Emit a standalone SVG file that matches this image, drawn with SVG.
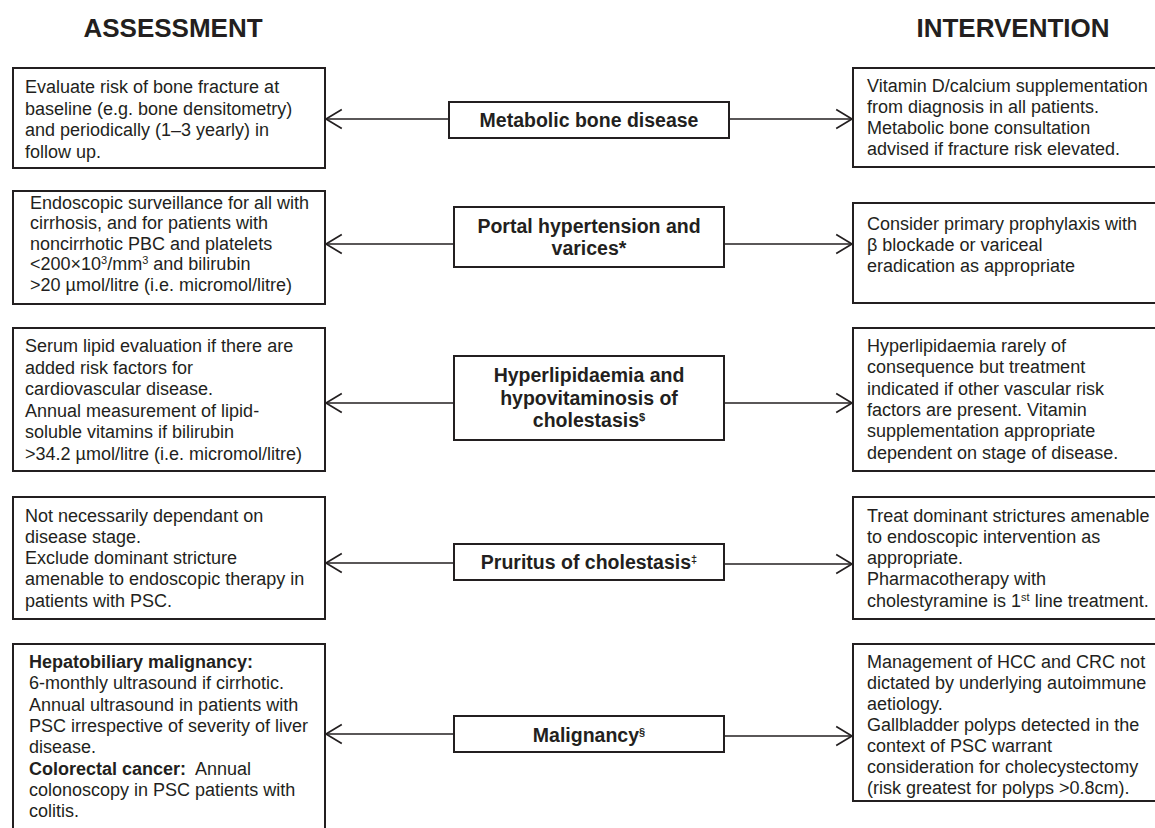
<svg xmlns="http://www.w3.org/2000/svg" width="1155" height="828" viewBox="0 0 1155 828">
<style>
.bg{fill:#fff}
.box{fill:#fff;stroke:#231f20;stroke-width:2}
.t{font-family:"Liberation Sans",Arial,sans-serif;font-size:18px;fill:#231f20}
.b{font-family:"Liberation Sans",Arial,sans-serif;font-size:19.5px;font-weight:bold;fill:#231f20;text-anchor:middle}
.h{font-family:"Liberation Sans",Arial,sans-serif;font-size:26px;font-weight:bold;fill:#231f20;text-anchor:middle}
.bold{font-weight:bold}
.sup{font-size:11px;baseline-shift:super}
.c{stroke:#231f20;stroke-width:1.6;fill:none;marker-end:url(#arr)}
</style>
<defs>
<marker id="arr" markerUnits="userSpaceOnUse" markerWidth="20" markerHeight="24" viewBox="-17 -11 19 22" refX="0" refY="0" orient="auto" overflow="visible">
<path d="M-15,-9 L0,0 L-15,9" fill="none" stroke="#231f20" stroke-width="1.6"/>
</marker>
</defs>
<rect class="bg" x="0" y="0" width="1155" height="828"/>
<g id="headings">
<text class="h" x="173" y="37">ASSESSMENT</text>
<text class="h" x="1013" y="37">INTERVENTION</text>
</g>
<g id="connectors">
<line class="c" x1="449" y1="119" x2="326" y2="119"/>
<line class="c" x1="729" y1="119" x2="852" y2="119"/>
<line class="c" x1="454" y1="244" x2="326" y2="244"/>
<line class="c" x1="724" y1="244" x2="852" y2="244"/>
<line class="c" x1="454" y1="403" x2="326" y2="403"/>
<line class="c" x1="724" y1="403" x2="852" y2="403"/>
<line class="c" x1="454" y1="563" x2="326" y2="563"/>
<line class="c" x1="724" y1="564" x2="852" y2="564"/>
<line class="c" x1="454" y1="734" x2="326" y2="734"/>
<line class="c" x1="724" y1="736" x2="852" y2="736"/>
</g>
<g id="a1">
<rect class="box" x="13" y="68" width="312" height="100"/>
<text class="t"><tspan x="25" y="93">Evaluate risk of bone fracture at</tspan><tspan x="25" y="114.7">baseline (e.g. bone densitometry)</tspan><tspan x="25" y="136.4">and periodically (1–3 yearly) in</tspan><tspan x="25" y="158">follow up.</tspan></text>
</g>
<g id="a2">
<rect class="box" x="13" y="191" width="312" height="113"/>
<text class="t"><tspan x="30" y="208.5">Endoscopic surveillance for all with</tspan><tspan x="30" y="229.1">cirrhosis, and for patients with</tspan><tspan x="30" y="249.7">noncirrhotic PBC and platelets</tspan><tspan x="30" y="270.3">&lt;200×10<tspan class="sup">3</tspan>/mm<tspan class="sup">3</tspan> and bilirubin</tspan><tspan x="30" y="290.9">&gt;20 µmol/litre (i.e. micromol/litre)</tspan></text>
</g>
<g id="a3">
<rect class="box" x="13" y="328" width="312" height="143"/>
<text class="t"><tspan x="25" y="352">Serum lipid evaluation if there are</tspan><tspan x="25" y="373.5">added risk factors for</tspan><tspan x="25" y="395">cardiovascular disease.</tspan><tspan x="25" y="416.5">Annual measurement of lipid-</tspan><tspan x="25" y="438">soluble vitamins if bilirubin</tspan><tspan x="25" y="459.5">&gt;34.2 µmol/litre (i.e. micromol/litre)</tspan></text>
</g>
<g id="a4">
<rect class="box" x="13" y="497" width="312" height="122"/>
<text class="t"><tspan x="25" y="521.5">Not necessarily dependant on</tspan><tspan x="25" y="542.8">disease stage.</tspan><tspan x="25" y="564.1">Exclude dominant stricture</tspan><tspan x="25" y="585.4">amenable to endoscopic therapy in</tspan><tspan x="25" y="606.7">patients with PSC.</tspan></text>
</g>
<g id="a5">
<rect class="box" x="13" y="644" width="312" height="200"/>
<text class="t"><tspan x="29" y="668" class="bold">Hepatobiliary malignancy:</tspan><tspan x="29" y="689.3">6-monthly ultrasound if cirrhotic.</tspan><tspan x="29" y="710.6">Annual ultrasound in patients with</tspan><tspan x="29" y="731.9">PSC irrespective of severity of liver</tspan><tspan x="29" y="753.2">disease.</tspan><tspan x="29" y="774.5"><tspan class="bold">Colorectal cancer:</tspan>&#160; Annual</tspan><tspan x="29" y="795.8">colonoscopy in PSC patients with</tspan><tspan x="29" y="817.1">colitis.</tspan></text>
</g>
<g id="m1">
<rect class="box" x="449" y="102" width="280" height="36"/>
<text class="b" x="589" y="127">Metabolic bone disease</text>
</g>
<g id="m2">
<rect class="box" x="454" y="207" width="270" height="60"/>
<text class="b"><tspan x="589" y="233">Portal hypertension and</tspan><tspan x="589" y="255">varices*</tspan></text>
</g>
<g id="m3">
<rect class="box" x="454" y="356" width="270" height="84"/>
<text class="b"><tspan x="589" y="382">Hyperlipidaemia and</tspan><tspan x="589" y="404.5">hypovitaminosis of</tspan><tspan x="589" y="427">cholestasis<tspan class="sup">$</tspan></tspan></text>
</g>
<g id="m4">
<rect class="box" x="454" y="544" width="270" height="36"/>
<text class="b" x="589" y="569">Pruritus of cholestasis<tspan class="sup">‡</tspan></text>
</g>
<g id="m5">
<rect class="box" x="454" y="716" width="270" height="36"/>
<text class="b" x="589" y="742">Malignancy<tspan class="sup">§</tspan></text>
</g>
<g id="i1">
<rect class="box" x="853" y="68" width="320" height="99"/>
<text class="t"><tspan x="867" y="92">Vitamin D/calcium supplementation</tspan><tspan x="867" y="113">from diagnosis in all patients.</tspan><tspan x="867" y="134">Metabolic bone consultation</tspan><tspan x="867" y="155">advised if fracture risk elevated.</tspan></text>
</g>
<g id="i2">
<rect class="box" x="853" y="203" width="320" height="100"/>
<text class="t"><tspan x="867" y="230">Consider primary prophylaxis with</tspan><tspan x="867" y="251">β blockade or variceal</tspan><tspan x="867" y="272">eradication as appropriate</tspan></text>
</g>
<g id="i3">
<rect class="box" x="853" y="328" width="320" height="143"/>
<text class="t"><tspan x="867" y="352">Hyperlipidaemia rarely of</tspan><tspan x="867" y="373.3">consequence but treatment</tspan><tspan x="867" y="394.6">indicated if other vascular risk</tspan><tspan x="867" y="415.9">factors are present. Vitamin</tspan><tspan x="867" y="437.2">supplementation appropriate</tspan><tspan x="867" y="458.5">dependent on stage of disease.</tspan></text>
</g>
<g id="i4">
<rect class="box" x="853" y="497" width="320" height="122"/>
<text class="t"><tspan x="867" y="521.5">Treat dominant strictures amenable</tspan><tspan x="867" y="542.8">to endoscopic intervention as</tspan><tspan x="867" y="564.1">appropriate.</tspan><tspan x="867" y="585.4">Pharmacotherapy with</tspan><tspan x="867" y="606.7">cholestyramine is 1<tspan class="sup">st</tspan> line treatment.</tspan></text>
</g>
<g id="i5">
<rect class="box" x="853" y="644" width="320" height="157"/>
<text class="t"><tspan x="867" y="667.5">Management of HCC and CRC not</tspan><tspan x="867" y="688.6">dictated by underlying autoimmune</tspan><tspan x="867" y="709.7">aetiology.</tspan><tspan x="867" y="730.8">Gallbladder polyps detected in the</tspan><tspan x="867" y="751.9">context of PSC warrant</tspan><tspan x="867" y="773">consideration for cholecystectomy</tspan><tspan x="867" y="794.1">(risk greatest for polyps &gt;0.8cm).</tspan></text>
</g>
</svg>
